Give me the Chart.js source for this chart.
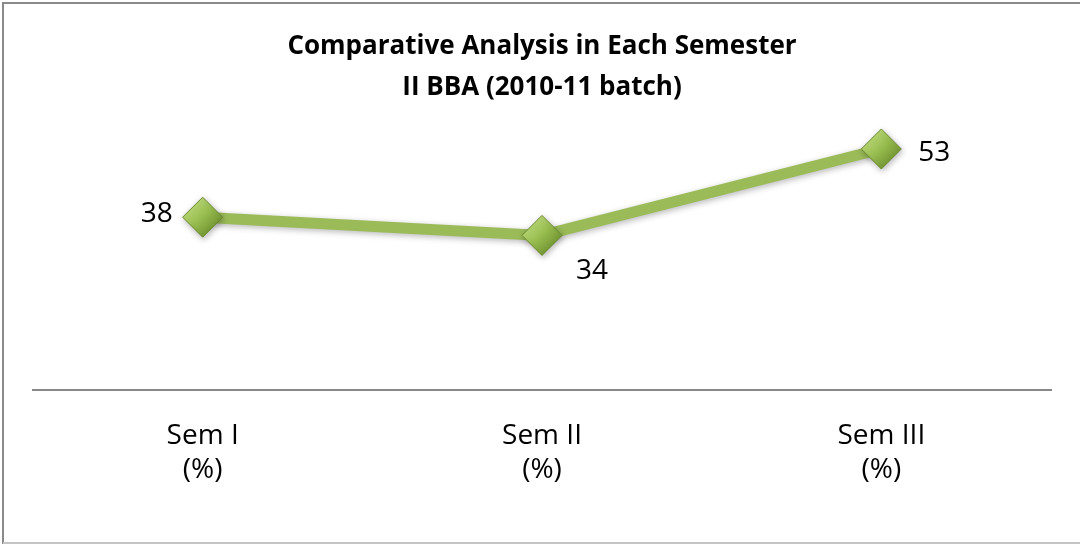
<!DOCTYPE html>
<html>
<head>
<meta charset="utf-8">
<script src="https://cdn.jsdelivr.net/npm/chart.js@4/dist/chart.umd.min.js"></script>
<style>
  html, body { margin: 0; padding: 0; background: #fff; }
  #wrap { width: 1080px; height: 544px; position: relative; }
</style>
</head>
<body>
<div id="wrap"><canvas id="c" width="1080" height="544"></canvas></div>
<script>
const categories = [["Sem I", "(%)"], ["Sem II", "(%)"], ["Sem III", "(%)"]];
const values = [38, 34, 53];
const titleLines = ["Comparative Analysis in Each Semester", "II BBA (2010-11 batch)"];
const yMin = 0;
const yMax = 60;

// label offsets relative to the point: [dx, dy, align]
const labelPlacement = [[-30, -3, "right"], [34, 36, "left"], [37, 4, "left"]];

const frame = {
  id: "frame",
  beforeDraw(chart) {
    const ctx = chart.ctx;
    ctx.save();
    ctx.fillStyle = "#fff";
    ctx.fillRect(0, 0, chart.width, chart.height);
    ctx.strokeStyle = "#8a8a8a";
    ctx.lineWidth = 2;
    ctx.beginPath();
    ctx.moveTo(3, 544);
    ctx.lineTo(3, 3);
    ctx.lineTo(1080, 3);
    ctx.stroke();
    ctx.strokeStyle = "#c4c4c4";
    ctx.beginPath();
    ctx.moveTo(3, 543);
    ctx.lineTo(1080, 543);
    ctx.stroke();
    ctx.restore();
  }
};

const shadow = {
  id: "shadow",
  beforeDatasetsDraw(chart) {
    const ctx = chart.ctx;
    ctx.save();
    ctx.shadowColor = "rgba(0,0,0,0.28)";
    ctx.shadowBlur = 6;
    ctx.shadowOffsetX = 1;
    ctx.shadowOffsetY = 2;
  },
  afterDatasetsDraw(chart) {
    chart.ctx.restore();
  }
};

const dataLabels = {
  id: "dataLabels",
  afterDatasetsDraw(chart) {
    const ctx = chart.ctx;
    const meta = chart.getDatasetMeta(0);
    ctx.save();
    ctx.font = '28px "Open Sans"';
    ctx.fillStyle = "#000";
    ctx.textBaseline = "middle";
    meta.data.forEach((pt, i) => {
      const p = labelPlacement[i];
      ctx.textAlign = p[2];
      ctx.fillText(String(values[i]), pt.x + p[0], pt.y + p[1]);
    });
    ctx.restore();
  }
};

function markerFill(context) {
  const el = context.element;
  if (!el || !Number.isFinite(el.x) || !Number.isFinite(el.y)) return "#8db13f";
  const ctx = context.chart.ctx;
  const x = el.x, y = el.y, r = 20;
  const g = ctx.createLinearGradient(x - r * 0.6, y - r * 0.6, x + r * 0.6, y + r * 0.6);
  g.addColorStop(0, "#bddb78");
  g.addColorStop(0.5, "#96bb4e");
  g.addColorStop(1, "#739532");
  return g;
}

new Chart(document.getElementById("c"), {
  type: "line",
  data: {
    labels: categories,
    datasets: [{
      data: values,
      borderColor: "#9bbb59",
      borderWidth: 11,
      pointStyle: "rectRot",
      pointRadius: 20,
      pointHoverRadius: 20,
      pointBackgroundColor: markerFill,
      pointBorderColor: "#6a8a2c",
      pointBorderWidth: 1,
      tension: 0
    }]
  },
  options: {
    responsive: false,
    animation: false,
    events: [],
    layout: { padding: { left: 33, right: 29, top: 0, bottom: 0 } },
    plugins: {
      legend: { display: false },
      tooltip: { enabled: false },
      title: {
        display: true,
        text: titleLines,
        color: "#000",
        font: { family: '"Open Sans"', size: 26, weight: "bold", lineHeight: 1.58 },
        padding: { top: 26, bottom: 9 }
      }
    },
    scales: {
      x: {
        offset: true,
        grid: { display: false, drawTicks: false },
        border: { display: true, color: "#888888", width: 2 },
        ticks: {
          color: "#000",
          padding: 30,
          maxRotation: 0,
          font: { family: '"Open Sans"', size: 28, lineHeight: 1.18 }
        },
        afterFit(s) { s.height = 154; }
      },
      y: {
        display: false,
        min: yMin,
        max: yMax
      }
    }
  },
  plugins: [frame, shadow, dataLabels]
});
</script>
</body>
</html>
